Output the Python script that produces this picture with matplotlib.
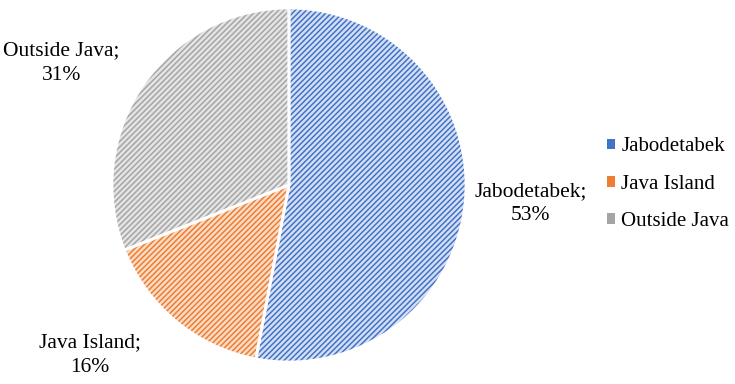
import numpy as np
import matplotlib.pyplot as plt

regions = ["Jabodetabek", "Java Island", "Outside Java"]
shares = [53, 16, 31]
face_colors = ["#d3dff5", "#fbdcc6", "#e4e4e4"]
hatch_colors = ["#4472c4", "#ed7d31", "#a5a5a5"]

plt.rcParams['font.family'] = ['Liberation Serif', 'DejaVu Serif']
plt.rcParams['hatch.linewidth'] = 1.1

fig = plt.figure(figsize=(7.35, 3.84), dpi=100)
# pie centre about (289, 185) px, radius about 177 px
ax = fig.add_axes([(289 - 177) / 735, (384 - 185 - 177) / 384, 354 / 735, 354 / 384])

wedges, _ = ax.pie(shares, startangle=90, counterclock=False, colors=face_colors,
                   wedgeprops=dict(linewidth=0))
for w, hc in zip(wedges, hatch_colors):
    w.set_edgecolor(hc)
    w.set_hatch('//////')

# white borders on top
borders, _ = ax.pie(shares, startangle=90, counterclock=False,
                    wedgeprops=dict(fill=False, edgecolor='white', linewidth=2))
ax.set_aspect('equal')
ax.set_xlim(-1.0, 1.0)
ax.set_ylim(-1.0, 1.0)

# data labels
label_dist = [1.37, 1.48, 1.46]
label_shift = [1, -10, 6]
for w, name, val, d, s in zip(wedges, regions, shares, label_dist, label_shift):
    ang = np.deg2rad((w.theta1 + w.theta2) / 2 + s)
    ax.text(d * np.cos(ang), d * np.sin(ang), f"{name};\n{val}%",
            ha='center', va='center', fontsize=15.5, linespacing=1.4)

handles = [plt.Rectangle((0, 0), 1, 1, facecolor=hc, edgecolor='none') for hc in hatch_colors]
fig.legend(handles, regions, loc='center left', bbox_to_anchor=(0.8, 0.52),
           frameon=False, fontsize=15, handlelength=0.4, handleheight=0.4,
           handletextpad=0.3, labelspacing=0.88)

fig.savefig('out.png', dpi=100)
